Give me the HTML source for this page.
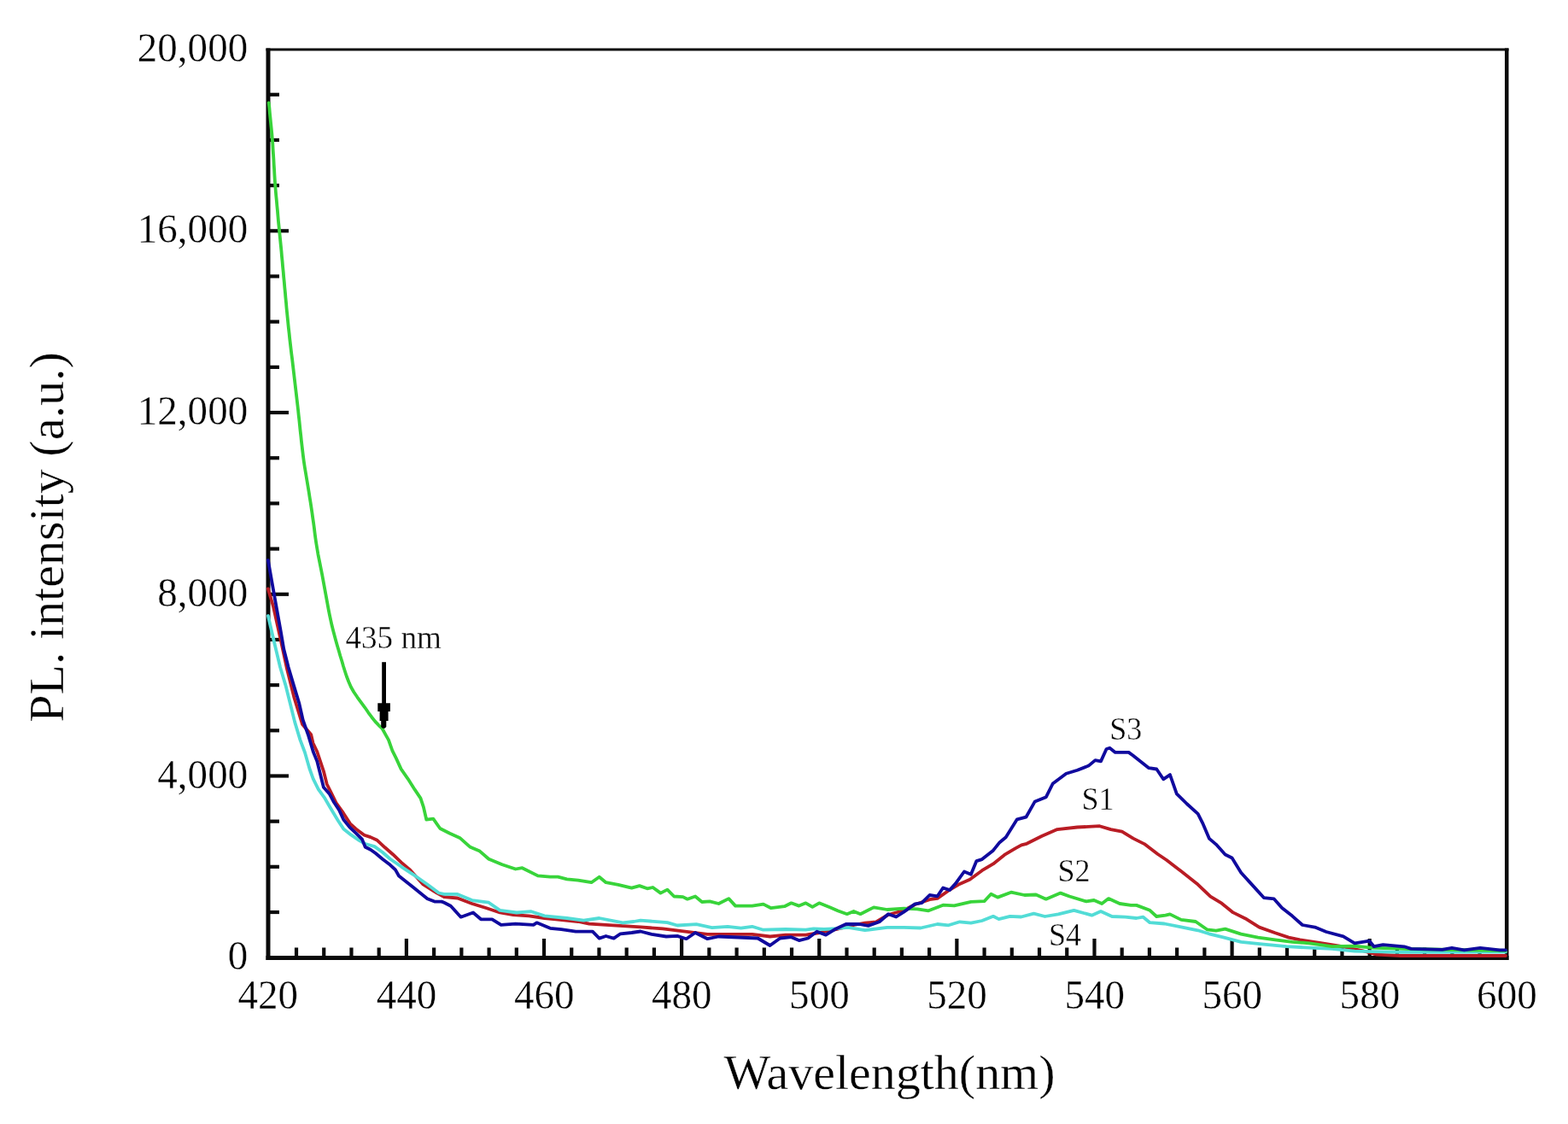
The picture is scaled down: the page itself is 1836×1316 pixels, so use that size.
<!DOCTYPE html>
<html><head><meta charset="utf-8"><title>PL intensity</title>
<style>
html,body{margin:0;padding:0;background:#fff;}
body{width:1836px;height:1316px;overflow:hidden;}
svg{display:block;}
text{font-family:"Liberation Serif","Times New Roman",serif;fill:#000;stroke:#fff;stroke-width:0.4px;}
.tl{font-size:49.3px;}
.an{font-size:37.5px;}
.ti{font-size:57px;}
</style></head>
<body>
<svg width="1836" height="1316" viewBox="0 0 1836 1316">
<rect width="1836" height="1316" fill="#fff"/>

<g fill="#0a0a0a">
<rect x="311.5" y="56.5" width="5" height="1067.5"/>
<rect x="311.5" y="1119" width="1455" height="5"/>
<rect x="311.5" y="56.5" width="1455" height="3"/>
<rect x="1762" y="56.5" width="4.5" height="1067.5"/>
<rect x="344.92" y="1109.50" width="4.2" height="10"/><rect x="377.14" y="1109.50" width="4.2" height="10"/><rect x="409.37" y="1109.50" width="4.2" height="10"/><rect x="441.59" y="1109.50" width="4.2" height="10"/><rect x="473.81" y="1099.00" width="4.2" height="20.5"/><rect x="506.03" y="1109.50" width="4.2" height="10"/><rect x="538.26" y="1109.50" width="4.2" height="10"/><rect x="570.48" y="1109.50" width="4.2" height="10"/><rect x="602.70" y="1109.50" width="4.2" height="10"/><rect x="634.92" y="1099.00" width="4.2" height="20.5"/><rect x="667.14" y="1109.50" width="4.2" height="10"/><rect x="699.37" y="1109.50" width="4.2" height="10"/><rect x="731.59" y="1109.50" width="4.2" height="10"/><rect x="763.81" y="1109.50" width="4.2" height="10"/><rect x="796.03" y="1099.00" width="4.2" height="20.5"/><rect x="828.26" y="1109.50" width="4.2" height="10"/><rect x="860.48" y="1109.50" width="4.2" height="10"/><rect x="892.70" y="1109.50" width="4.2" height="10"/><rect x="924.92" y="1109.50" width="4.2" height="10"/><rect x="957.14" y="1099.00" width="4.2" height="20.5"/><rect x="989.37" y="1109.50" width="4.2" height="10"/><rect x="1021.59" y="1109.50" width="4.2" height="10"/><rect x="1053.81" y="1109.50" width="4.2" height="10"/><rect x="1086.03" y="1109.50" width="4.2" height="10"/><rect x="1118.26" y="1099.00" width="4.2" height="20.5"/><rect x="1150.48" y="1109.50" width="4.2" height="10"/><rect x="1182.70" y="1109.50" width="4.2" height="10"/><rect x="1214.92" y="1109.50" width="4.2" height="10"/><rect x="1247.14" y="1109.50" width="4.2" height="10"/><rect x="1279.37" y="1099.00" width="4.2" height="20.5"/><rect x="1311.59" y="1109.50" width="4.2" height="10"/><rect x="1343.81" y="1109.50" width="4.2" height="10"/><rect x="1376.03" y="1109.50" width="4.2" height="10"/><rect x="1408.26" y="1109.50" width="4.2" height="10"/><rect x="1440.48" y="1099.00" width="4.2" height="20.5"/><rect x="1472.70" y="1109.50" width="4.2" height="10"/><rect x="1504.92" y="1109.50" width="4.2" height="10"/><rect x="1537.14" y="1109.50" width="4.2" height="10"/><rect x="1569.37" y="1109.50" width="4.2" height="10"/><rect x="1601.59" y="1099.00" width="4.2" height="20.5"/><rect x="1633.81" y="1109.50" width="4.2" height="10"/><rect x="1666.03" y="1109.50" width="4.2" height="10"/><rect x="1698.26" y="1109.50" width="4.2" height="10"/><rect x="1730.48" y="1109.50" width="4.2" height="10"/><rect x="316" y="1065.92" width="11" height="4.2"/><rect x="316" y="1012.74" width="11" height="4.2"/><rect x="316" y="959.56" width="11" height="4.2"/><rect x="316" y="906.38" width="22" height="4.2"/><rect x="316" y="853.20" width="11" height="4.2"/><rect x="316" y="800.02" width="11" height="4.2"/><rect x="316" y="746.84" width="11" height="4.2"/><rect x="316" y="693.66" width="22" height="4.2"/><rect x="316" y="640.48" width="11" height="4.2"/><rect x="316" y="587.30" width="11" height="4.2"/><rect x="316" y="534.12" width="11" height="4.2"/><rect x="316" y="480.94" width="22" height="4.2"/><rect x="316" y="427.76" width="11" height="4.2"/><rect x="316" y="374.58" width="11" height="4.2"/><rect x="316" y="321.40" width="11" height="4.2"/><rect x="316" y="268.22" width="22" height="4.2"/><rect x="316" y="215.04" width="11" height="4.2"/><rect x="316" y="161.86" width="11" height="4.2"/><rect x="316" y="108.68" width="11" height="4.2"/>
</g>
<g fill="none" stroke-linejoin="round" stroke-linecap="round" stroke-width="3.8">
<polyline stroke="#b91c24" points="313.9,689.4 320,710 328,746 336,783 344.5,817 354,848 364.2,860 366.5,870 371.3,880 378.9,902.8 382.7,918 388,928.6 393.6,940 402.2,952.2 410,964.3 416.7,970.4 426.5,977.7 433.8,980.1 441.7,983.8 450.8,992.3 459.9,1000.2 470,1009.9 480.4,1018.8 495.4,1035.5 508.8,1043.9 520,1050.2 535.7,1051.5 552.7,1058 569.7,1063.3 585.4,1068.5 601,1071.1 619.3,1072.4 637.6,1075 650.7,1076.3 676.9,1079 689.9,1081.6 709.5,1082.9 729.2,1084.2 750,1085.4 776.1,1087.4 802.3,1090.7 828.4,1093.9 854.6,1093.9 880.7,1093.9 901.6,1096.5 919.9,1094.6 943.5,1094.6 960,1092 980,1088 1000,1083 1012.7,1080.7 1025.8,1079.3 1040,1071 1058,1066 1071.5,1059 1088.5,1053.2 1097.6,1051.9 1110.7,1042.7 1123.8,1034.9 1135.6,1029.7 1149.9,1019.2 1163,1011.4 1176.1,1000.9 1189.2,993.1 1196.1,989.4 1202.2,987.8 1219.7,979 1238,971.1 1261.5,968.5 1287.6,967.2 1300.7,971.1 1313.8,973.7 1326.9,981.6 1339.9,988.1 1355.6,1000 1366,1007 1383,1020.1 1401.3,1034.4 1417.3,1049.7 1430.6,1057.7 1443.9,1068.4 1459.8,1076.3 1474.5,1085.6 1493.1,1092.3 1509,1097.6 1522.3,1100.3 1545,1104 1570,1108 1595,1113 1612,1117.6 1640,1119 1720,1119 1763,1119"/>
<polyline stroke="#52dcd6" points="313.9,721 320.8,750.7 328.1,781.3 334.5,802.6 339.8,823.8 345.1,845.1 351.5,866.4 357,881 362.3,899.5 366.7,911.9 372.8,924.1 380.4,934.7 386.5,945.3 396.1,961.3 402.2,970.4 411.3,977.7 420.4,983.8 427.7,988 438.6,991.1 447.8,997.8 456.9,1005.7 470,1014.8 483.7,1023.8 500.4,1035.5 513.8,1045.5 520,1046.9 535.7,1046.9 552.7,1054.1 572.3,1056.7 585.4,1065.9 605,1068.5 622,1067.2 637.6,1072.4 663.8,1075 683.4,1077.6 701.7,1075 729.2,1080.3 742.2,1079 750,1077.6 765.7,1078.9 781.4,1080.2 793.1,1083.5 815.4,1082.2 833.7,1086.1 852,1084.8 867.6,1086.7 880.7,1084.8 893.8,1088.7 919.9,1088 943.5,1088.7 952.6,1087.4 965,1088 980,1087.2 993.1,1085.9 1012.7,1089.2 1038.8,1085.9 1058.4,1085.9 1078,1086.5 1097.6,1082 1110.7,1083.3 1123.8,1079.3 1136.9,1080.7 1149.9,1078 1163,1072.8 1169.5,1076.1 1182.6,1072.8 1195.7,1073.5 1210.5,1069.7 1223.5,1073 1239.2,1070.4 1257.5,1065.8 1278.4,1071.7 1288.9,1067.1 1302,1073 1317.6,1073.7 1330.7,1075 1338.6,1073.7 1346.4,1080.2 1363.4,1081.5 1383,1085.4 1402.6,1089.3 1415.7,1093.3 1433.2,1097.6 1453.2,1102.9 1479.8,1105.6 1506.4,1108.2 1533,1109.6 1559.6,1110.9 1586.2,1113.6 1640,1114.9 1763,1114.5"/>
<polyline stroke="#38d43a" points="314.7,120.3 315.4,126.3 315.9,132.3 316.5,138.3 317.1,144.3 317.7,150.3 318.3,156.3 318.8,162.3 319.3,168.3 319.6,174.3 320,180.3 320.4,186.3 320.7,192.3 321.1,198.3 321.4,204.3 321.8,210.3 322.2,216.3 322.7,222.3 323.2,228.3 323.8,234.3 324.3,240.3 324.9,246.3 325.4,252.3 325.9,258.3 326.5,264.3 327.1,270.3 327.7,276.3 328.3,282.3 328.9,288.3 329.5,294.3 330,300.3 330.6,306.3 331.1,312.3 331.7,318.3 332.2,324.3 332.8,330.3 333.3,336.3 333.9,342.3 334.4,348.3 335,354.3 335.5,360.3 336.1,366.3 336.7,372.3 337.3,378.3 337.9,384.3 338.6,390.3 339.2,396.3 339.9,402.3 340.6,408.3 341.3,414.3 342.1,420.3 342.8,426.3 343.5,432.3 344.2,438.3 344.9,444.3 345.6,450.3 346.3,456.3 347,462.3 347.7,468.3 348.4,474.3 349.1,480.3 349.7,486.3 350.4,492.3 351,498.3 351.6,504.3 352.3,510.3 352.9,516.3 353.6,522.3 354.3,528.3 355,534.3 355.8,540.3 356.7,546.3 357.7,552.3 358.7,558.3 359.7,564.3 360.7,570.3 361.7,576.3 362.6,582.3 363.6,588.3 364.5,594.3 365.4,600.3 366.2,606.3 367.1,612.3 367.9,618.3 368.6,624.3 369.4,630.3 370.3,636.3 371.3,642.3 372.3,648.3 373.5,654.3 374.7,660.3 375.9,666.3 377.1,672.3 378.2,678.3 379.3,684.3 380.4,690.3 381.5,696.3 382.6,702.3 383.7,708.3 384.8,714.3 386,720.3 387.3,726.3 388.6,732.3 390.1,738.3 391.7,744.3 393.3,750.3 395,756.3 396.8,762.3 398.5,768.3 400.4,774.3 402.1,780.3 404,786.3 406,792.3 408.3,798.3 410.9,804.3 414.3,810.3 418.4,816.3 422.8,822.3 427.2,828.3 431.3,834.3 435.3,839.7 439.2,844.6 443.6,849.3 447.4,852.8 451.2,859.6 455,866.4 459.4,878.8 463.9,887.9 469.6,900.4 477.6,911.8 485.6,924.4 492.5,934.6 495.9,944.9 499.3,959.7 507.3,958.6 515.3,970 526.7,975.7 538.3,980.9 550.1,991.4 561.8,996.6 572.3,1005.8 588,1012.3 603.7,1017.5 611.5,1016.2 629.8,1025.4 644.2,1026.7 653.3,1026.7 663.8,1029.3 676.9,1030.6 692.5,1033.2 701.7,1026.7 709.5,1033.2 723.9,1035.8 739.6,1039.7 748.8,1037.1 757.8,1040.3 764.4,1039 773.5,1045.6 781.4,1041.6 789.2,1049.5 799.7,1050.1 804.9,1052.7 814.1,1049.5 821.9,1056 831,1055.4 841.5,1058 853.3,1052.1 861.1,1060.6 880.7,1060.6 893.8,1058.6 902.9,1063.2 918.6,1061.2 926.5,1057.3 935.6,1060.6 943.5,1057.3 951.3,1061.9 959.2,1057.3 972.2,1062.5 981.4,1066.5 991.8,1070.2 999.6,1066.9 1007.5,1070.2 1023.1,1062.4 1038.8,1065 1058.4,1063.7 1074.1,1064.3 1087.2,1066.3 1104.2,1059.7 1117.3,1060.4 1136.9,1055.8 1152.5,1055.2 1160.4,1046.7 1168.2,1050.6 1183.9,1044.7 1199.6,1048 1213.1,1047.5 1224.8,1052.7 1241.8,1045.6 1252.3,1049.5 1271.9,1055.4 1281,1054 1290.2,1058 1298,1052.1 1311.1,1058 1324.2,1059.9 1330.7,1059.9 1346.4,1065.8 1354.2,1073 1364.7,1071.7 1369.9,1070.4 1383,1076.9 1400,1079 1413.3,1088.3 1423.9,1089.6 1434.6,1087.6 1453.2,1093.6 1473.1,1097.6 1493.1,1100.3 1513,1102.9 1533,1104.3 1559.6,1108.2 1586.2,1107.6 1606.1,1109.6 1650,1111 1700,1112 1763,1113"/>
<polyline stroke="#100a9e" points="313.9,655.8 319.8,689.4 328.7,738.9 332.3,760 337.7,781.3 344,802.6 350.4,823.8 354.7,843 361.1,861.1 366.7,880 371.3,891.4 375.1,906.6 378.9,921.8 385.7,929.4 391,939.3 397.1,948.4 402.2,959.5 409.5,968.6 416.7,975.3 424,982.6 427.7,991.7 433.8,994.7 439.8,999 447.8,1005.7 455.7,1011.7 463,1018.4 467,1025.5 483.7,1038.8 500.4,1052.2 508.8,1055.6 517.1,1055.6 520,1056.7 527.8,1060.7 539.6,1073.7 554,1068.5 563.1,1076.3 576.2,1076.3 586.7,1082.9 603.7,1081.6 624.6,1082.9 628.5,1080.3 644.2,1086.8 657.3,1088.1 674.2,1090.7 693.9,1090.7 701.7,1098.6 709.5,1096 718.7,1098.6 726.5,1093.3 739.6,1092 750,1090.5 763.1,1093.9 780.1,1096.5 793.1,1095.9 803.6,1099.2 814.1,1092 828.4,1099.2 841.5,1096.5 887.3,1098.5 901.6,1107 913.4,1098.5 926.5,1097.2 935.6,1101.1 946.1,1098.5 956.5,1090.7 967,1094.6 978.8,1087.4 990.5,1082 1006.1,1082 1016.6,1083.9 1029.7,1079.3 1040.1,1070.2 1049.3,1073.5 1058.4,1067.6 1071.5,1058.4 1079.3,1057.1 1088.5,1048 1097.6,1049.3 1104.2,1039.5 1112,1042.1 1118.6,1034.9 1129,1020.5 1136.9,1023.8 1143.4,1008.1 1149.9,1006.1 1163,995.7 1170,986.8 1177.8,980.3 1190.9,959.3 1201.4,956.7 1211.8,938.4 1224.9,933.2 1232.7,917.5 1248.4,905.8 1261.5,901.8 1274.6,896.6 1282.4,890.1 1289,891.4 1295.5,877 1299.4,875.7 1305.9,880.9 1321.6,880.9 1326.9,884.8 1345.2,899.2 1354.3,900.5 1362.2,912.3 1370,907.1 1377.8,929.3 1389.6,941 1402.7,952.8 1408,963.3 1416,981.9 1423.9,988.6 1434.6,1000.5 1442.6,1004.5 1453.2,1021.8 1466.5,1036.4 1479.8,1051.1 1491.8,1052.4 1501.1,1063 1513,1072.3 1525,1083 1539.6,1085.6 1552.9,1091 1572.9,1096.3 1586.2,1104.3 1603.5,1101.6 1608.8,1108.2 1619.4,1106.2 1644.2,1108.3 1652.4,1110.9 1671.1,1111.4 1688.7,1111.9 1700,1109.8 1714.5,1112.4 1733.2,1109.8 1755.9,1112.4 1763,1112.4"/>
</g>
<g class="tl">
<text transform="translate(313.7,1180.6) scale(0.955,1)" text-anchor="middle">420</text><text transform="translate(476.1,1180.6) scale(0.955,1)" text-anchor="middle">440</text><text transform="translate(637.2,1180.6) scale(0.955,1)" text-anchor="middle">460</text><text transform="translate(798.3,1180.6) scale(0.955,1)" text-anchor="middle">480</text><text transform="translate(959.4,1180.6) scale(0.955,1)" text-anchor="middle">500</text><text transform="translate(1120.6,1180.6) scale(0.955,1)" text-anchor="middle">520</text><text transform="translate(1281.7,1180.6) scale(0.955,1)" text-anchor="middle">540</text><text transform="translate(1442.8,1180.6) scale(0.955,1)" text-anchor="middle">560</text><text transform="translate(1603.9,1180.6) scale(0.955,1)" text-anchor="middle">580</text><text transform="translate(1764.4,1180.6) scale(0.955,1)" text-anchor="middle">600</text>
<text transform="translate(290.2,1135.2) scale(0.955,1)" text-anchor="end">0</text><text transform="translate(290.2,922.5) scale(0.955,1)" text-anchor="end">4,000</text><text transform="translate(290.2,709.8) scale(0.955,1)" text-anchor="end">8,000</text><text transform="translate(290.2,497.0) scale(0.955,1)" text-anchor="end">12,000</text><text transform="translate(290.2,284.3) scale(0.955,1)" text-anchor="end">16,000</text><text transform="translate(290.2,71.6) scale(0.955,1)" text-anchor="end">20,000</text>
</g>
<text class="ti" transform="translate(1041.5,1274.6) scale(1.017,1)" text-anchor="middle">Wavelength(nm)</text>
<text class="ti" transform="translate(74.2,629) rotate(-90) scale(1.018,1)" text-anchor="middle">PL. intensity (a.u.)</text>
<g class="an">
<text transform="translate(404.5,758.6) scale(0.99,1)">435 nm</text>
<text transform="translate(1299.3,866.3) scale(0.96,1)">S3</text>
<text transform="translate(1266.5,947.7) scale(0.96,1)">S1</text>
<text transform="translate(1238.6,1032.3) scale(0.96,1)">S2</text>
<text transform="translate(1228.1,1107.4) scale(0.96,1)">S4</text>
</g>
<rect x="447.2" y="775.2" width="4.8" height="50" fill="#000"/>
<polygon fill="#000" points="442.3,823.3 456.9,823.3 456.9,833 454.6,833 454.6,844 452.3,844 452.3,851 450.5,852.8 448,852.8 446.2,851 446.2,844 444.6,844 444.6,833 442.3,833"/>
</svg>
</body></html>
